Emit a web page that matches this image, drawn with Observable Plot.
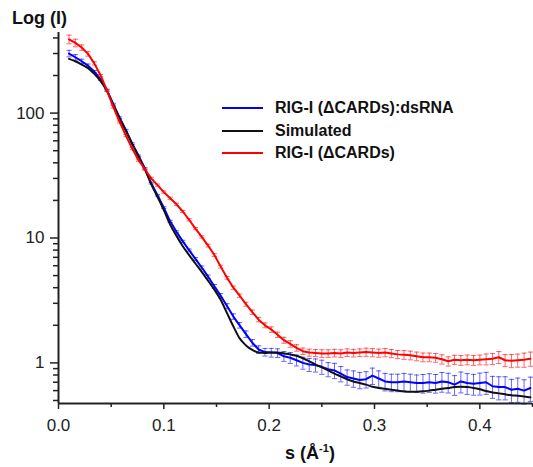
<!DOCTYPE html>
<html>
<head>
<meta charset="utf-8">
<script src="https://cdn.jsdelivr.net/npm/d3@7"></script>
<script src="https://cdn.jsdelivr.net/npm/@observablehq/plot@0.6"></script>
<style>
  body { margin: 0; background: white; }
  #wrap { position: relative; width: 533px; height: 467px; font-family: "Liberation Sans", Arial, sans-serif; color: #111; }
  .lbl { position: absolute; font-weight: bold; line-height: 1; white-space: nowrap; }
  #legend { position: absolute; left: 222px; top: 97px; font-weight: bold; font-size: 16px; }
  .row { display: flex; align-items: center; height: 22.5px; }
  .sw { width: 41px; height: 0; border-top: 2px solid; margin-right: 12px; }
</style>
</head>
<body>
<div id="wrap"></div>
<script>
// scattering vector s (Å^-1)
const s = [
  0.010,0.016,0.022,0.028,0.034,0.040,0.046,0.052,0.058,0.064,
  0.070,0.076,0.082,0.088,0.094,0.100,0.106,0.112,0.118,0.124,
  0.130,0.136,0.142,0.148,0.154,0.160,0.166,0.172,0.178,0.184,
  0.190,0.196,0.202,0.208,0.214,0.220,0.226,0.232,0.238,0.244,
  0.250,0.256,0.262,0.268,0.274,0.280,0.286,0.292,0.298,0.304,
  0.310,0.316,0.322,0.328,0.334,0.340,0.346,0.352,0.358,0.364,
  0.370,0.376,0.382,0.388,0.394,0.400,0.406,0.412,0.418,0.424,
  0.430,0.436,0.442,0.448
];
// RIG-I (ΔCARDs):dsRNA  (blue)
const complexI = [
  300,280,260,240,215,186,153,118,92,73,
  57,45.5,36,27.5,22,17.5,13.6,11.2,9.4,8.0,
  6.8,5.8,4.9,4.1,3.45,2.85,2.35,2.0,1.7,1.45,
  1.28,1.22,1.21,1.2,1.13,1.1,1.05,1.0,0.97,0.96,
  0.93,0.89,0.87,0.82,0.77,0.75,0.73,0.74,0.79,0.75,
  0.71,0.70,0.70,0.71,0.70,0.69,0.69,0.70,0.69,0.71,
  0.70,0.67,0.71,0.69,0.68,0.69,0.70,0.65,0.64,0.64,
  0.61,0.62,0.60,0.63
];
const complexErr = [
  0.06,0.05,0.04,0.03,0.02,0.015,0.015,0.015,0.015,0.015,
  0.015,0.015,0.015,0.015,0.015,0.015,0.02,0.02,0.02,0.02,
  0.025,0.03,0.03,0.035,0.04,0.045,0.05,0.05,0.06,0.06,
  0.07,0.07,0.08,0.08,0.09,0.1,0.1,0.11,0.12,0.12,
  0.13,0.13,0.14,0.14,0.14,0.15,0.15,0.15,0.15,0.15,
  0.16,0.16,0.16,0.16,0.16,0.16,0.17,0.17,0.17,0.18,
  0.18,0.18,0.19,0.19,0.19,0.2,0.2,0.2,0.21,0.21,
  0.21,0.22,0.22,0.22
];
// Simulated (black)
const simulatedI = [
  272,260,245,229,206,180,150,117,91,72,
  56.5,45,35.5,27,21.3,16.7,12.8,10.4,8.6,7.3,
  6.25,5.35,4.55,3.85,3.2,2.5,1.96,1.57,1.38,1.27,
  1.21,1.20,1.21,1.21,1.19,1.17,1.14,1.09,1.03,0.97,
  0.92,0.87,0.82,0.78,0.74,0.71,0.69,0.67,0.645,0.63,
  0.62,0.61,0.60,0.59,0.587,0.588,0.592,0.60,0.61,0.62,
  0.63,0.64,0.645,0.64,0.63,0.615,0.595,0.58,0.57,0.56,
  0.55,0.545,0.538,0.53
];
// RIG-I (ΔCARDs)  (red)
const apoI = [
  390,365,335,298,250,200,152,112,85,66,
  52,42,35.5,30,26.5,23.3,20.8,18.6,16.3,14,
  11.9,10.2,8.7,7.3,5.9,4.8,4.0,3.45,2.95,2.55,
  2.22,2.0,1.85,1.68,1.52,1.42,1.32,1.24,1.21,1.2,
  1.19,1.19,1.2,1.19,1.21,1.2,1.21,1.22,1.21,1.2,
  1.21,1.19,1.17,1.16,1.15,1.13,1.11,1.11,1.1,1.07,
  1.03,1.06,1.05,1.06,1.05,1.06,1.07,1.08,1.11,1.05,
  1.04,1.05,1.06,1.08
];
const apoErr = [
  0.08,0.07,0.05,0.04,0.03,0.02,0.02,0.02,0.02,0.02,
  0.02,0.02,0.02,0.02,0.02,0.02,0.02,0.02,0.02,0.02,
  0.02,0.02,0.025,0.025,0.025,0.025,0.03,0.03,0.035,0.04,
  0.04,0.045,0.05,0.05,0.055,0.06,0.06,0.06,0.065,0.065,
  0.07,0.07,0.07,0.07,0.07,0.07,0.07,0.075,0.075,0.075,
  0.075,0.075,0.075,0.08,0.08,0.08,0.08,0.08,0.08,0.085,
  0.085,0.085,0.09,0.09,0.09,0.09,0.1,0.1,0.11,0.11,
  0.12,0.12,0.13,0.13
];
const seriesNames = ["RIG-I (ΔCARDs):dsRNA", "Simulated", "RIG-I (ΔCARDs)"];
const seriesColors = ["#0000ff", "#111111", "#ff0000"];
const xTicks = [0, 0.1, 0.2, 0.3, 0.4];
const xMinor = [0.05, 0.15, 0.25, 0.35, 0.45];
const yTicks = [1, 10, 100];
const yMinor = [0.5,0.6,0.7,0.8,0.9,2,3,4,5,6,7,8,9,20,30,40,50,60,70,80,90,200,300,400];
const xDomain = [0, 0.45];
const yDomain = [0.473, 442];

const rows = (vals, errs) => s.map((x, i) => ({
  s: x, I: vals[i],
  lo: errs ? vals[i] * (1 - errs[i]) : null,
  hi: errs ? vals[i] * (1 + errs[i]) : null
}));
const blueRows = rows(complexI, complexErr);
const simRows = rows(simulatedI, null);
const redRows = rows(apoI, apoErr);

const cap = { draw(ctx, size) { const r = Math.sqrt(size / Math.PI); ctx.moveTo(-r, 0); ctx.lineTo(r, 0); } };

const errMarks = (data, color) => [
  Plot.ruleX(data, {x: "s", y1: "lo", y2: "hi", stroke: color, strokeOpacity: 0.6, strokeWidth: 1}),
  Plot.dot(data, {x: "s", y: "lo", symbol: cap, r: 2.6, stroke: color, strokeOpacity: 0.6, strokeWidth: 1, fill: "none"}),
  Plot.dot(data, {x: "s", y: "hi", symbol: cap, r: 2.6, stroke: color, strokeOpacity: 0.6, strokeWidth: 1, fill: "none"})
];

const chart = Plot.plot({
  width: 533, height: 467,
  marginLeft: 58, marginRight: 1, marginTop: 32, marginBottom: 64,
  x: {domain: xDomain},
  y: {type: "log", domain: yDomain},
  style: {fontFamily: "'Liberation Sans', Arial, sans-serif", fontSize: "17px", color: "#222", background: "white", overflow: "visible"},
  marks: [
    ...errMarks(blueRows, seriesColors[0]),
    Plot.line(blueRows, {x: "s", y: "I", stroke: seriesColors[0], strokeWidth: 2}),
    Plot.line(simRows, {x: "s", y: "I", stroke: seriesColors[1], strokeWidth: 2, curve: "monotone-x"}),
    ...errMarks(redRows, seriesColors[2]),
    Plot.line(redRows, {x: "s", y: "I", stroke: seriesColors[2], strokeWidth: 2}),
    Plot.ruleX([xDomain[0]], {stroke: "#222", strokeWidth: 2}),
    Plot.ruleY([yDomain[0]], {stroke: "#222", strokeWidth: 2}),
    Plot.axisX({ticks: xTicks, tickSize: 6, tickPadding: 9, tickFormat: d3.format(".1f"), label: null, strokeWidth: 1.5}),
    Plot.axisX({ticks: xMinor, tickSize: 4, tickFormat: () => "", label: null, strokeWidth: 1.5}),
    Plot.axisY({ticks: yTicks, tickSize: 8, tickPadding: 6, tickFormat: d => String(d), label: null, strokeWidth: 1.5}),
    Plot.axisY({ticks: yMinor, tickSize: 5, tickFormat: () => "", label: null, strokeWidth: 1.5})
  ]
});

const wrap = document.getElementById("wrap");
wrap.appendChild(chart);

const ylab = document.createElement("div");
ylab.className = "lbl";
ylab.style.cssText = "left:12px;top:9px;font-size:18px;";
ylab.textContent = "Log (I)";
wrap.appendChild(ylab);

const xlab = document.createElement("div");
xlab.className = "lbl";
xlab.style.cssText = "left:210px;top:443px;width:200px;text-align:center;font-size:18px;";
xlab.innerHTML = "s (Å<sup style='font-size:11px;vertical-align:7px'>-1</sup>)";
wrap.appendChild(xlab);

const legend = document.createElement("div");
legend.id = "legend";
seriesNames.forEach((name, i) => {
  const row = document.createElement("div");
  row.className = "row";
  const sw = document.createElement("span");
  sw.className = "sw";
  sw.style.borderColor = seriesColors[i];
  const t = document.createElement("span");
  t.textContent = name;
  row.appendChild(sw); row.appendChild(t);
  legend.appendChild(row);
});
wrap.appendChild(legend);
</script>
</body>
</html>
